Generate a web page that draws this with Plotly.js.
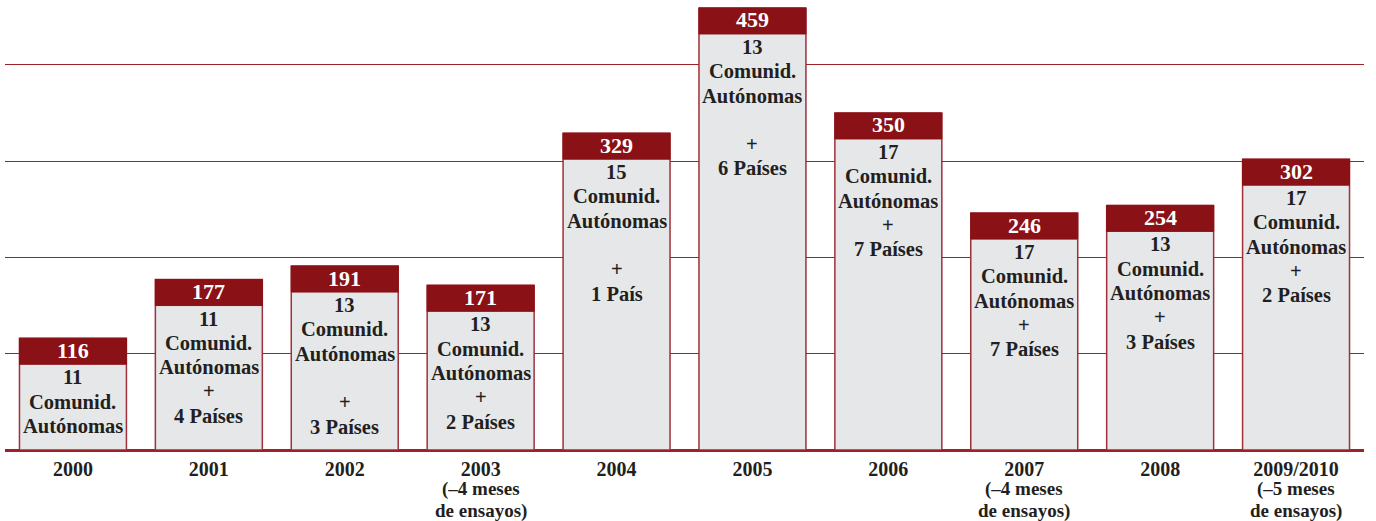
<!DOCTYPE html>
<html><head><meta charset="utf-8">
<script src="https://cdn.plot.ly/plotly-3.0.1.min.js"></script>
<style>html,body{margin:0;padding:0;background:#fff}#chart{width:1376px;height:521px}</style>
</head><body><div id="chart"></div>
<script>
const years = ['2000','2001','2002','2003','2004','2005','2006','2007','2008','2009/2010'];
const yearNotes = ['','','','(–4 meses<br>de ensayos)','','','','(–4 meses<br>de ensayos)','','(–5 meses<br>de ensayos)'];
const ensayos = [116,177,191,171,329,459,350,246,254,302];
const descriptions = [
  '11<br>Comunid.<br>Autónomas',
  '11<br>Comunid.<br>Autónomas<br>+<br>4 Países',
  '13<br>Comunid.<br>Autónomas<br><br>+<br>3 Países',
  '13<br>Comunid.<br>Autónomas<br>+<br>2 Países',
  '15<br>Comunid.<br>Autónomas<br><br>+<br>1 País',
  '13<br>Comunid.<br>Autónomas<br><br>+<br>6 Países',
  '17<br>Comunid.<br>Autónomas<br>+<br>7 Países',
  '17<br>Comunid.<br>Autónomas<br>+<br>7 Países',
  '13<br>Comunid.<br>Autónomas<br>+<br>3 Países',
  '17<br>Comunid.<br>Autónomas<br>+<br>2 Países'
];

const RED = '#8a1116';
const EDGE = '#a0303a';
const FONT = 'Liberation Serif';
const TXT = '#231f20';
const idx = years.map((_, i) => i);
const BW = 0.787;
const HEAD = 26;

const trace = {
  type: 'bar', x: idx, y: ensayos, width: BW,
  marker: {color: '#e6e7e9', line: {color: EDGE, width: 1.5}},
  hoverinfo: 'skip'
};

const shapes = idx.map(i => ({
  type: 'rect', layer: 'above', xref: 'x', yref: 'y',
  x0: i - BW/2, x1: i + BW/2,
  ysizemode: 'pixel', yanchor: ensayos[i], y0: -HEAD, y1: 0,
  fillcolor: RED, line: {color: RED, width: 1}
}));

const annotations = [];
idx.forEach(i => {
  annotations.push({
    x: i, y: ensayos[i], xref: 'x', yref: 'y', yanchor: 'middle', yshift: -HEAD/2 + 1,
    text: '<b>' + ensayos[i] + '</b>', showarrow: false,
    font: {family: FONT, size: 22, color: '#ffffff'}
  });
  descriptions[i].split('<br>').forEach((line, k) => {
    if (!line) return;
    annotations.push({
      x: i, y: ensayos[i], xref: 'x', yref: 'y', yanchor: 'middle',
      yshift: -HEAD - 13 - k * 24.3,
      text: '<b>' + line + '</b>', showarrow: false,
      font: {family: FONT, size: 20.5, color: TXT}
    });
  });
  yearNotes[i].split('<br>').forEach((line, k) => {
    if (!line) return;
    annotations.push({
      x: i, y: 0, xref: 'x', yref: 'y', yanchor: 'middle',
      yshift: -39 - k * 21.5,
      text: '<b>' + line + '</b>', showarrow: false,
      font: {family: FONT, size: 19, color: TXT}
    });
  });
});

const layout = {
  width: 1376, height: 521,
  margin: {l: 5, r: 12, t: 0, b: 71},
  paper_bgcolor: '#ffffff', plot_bgcolor: '#ffffff',
  showlegend: false,
  xaxis: {
    range: [-0.5, 9.5], tickmode: 'array', tickvals: idx,
    ticktext: years.map(t => '<b>' + t + '</b>'),
    ticks: 'outside', ticklen: 1, tickcolor: 'rgba(0,0,0,0)',
    showgrid: false, zeroline: false, showline: false,
    tickfont: {family: FONT, size: 20, color: TXT},
    fixedrange: true
  },
  yaxis: {
    range: [0, 467.3], tickvals: [100,200,300,400], showticklabels: false,
    showgrid: true, gridcolor: '#9b2327', gridwidth: 1,
    zeroline: true, zerolinecolor: '#9b2327', zerolinewidth: 3,
    ticks: '', fixedrange: true
  },
  shapes: shapes,
  annotations: annotations
};

Plotly.newPlot('chart', [trace], layout, {displayModeBar: false, staticPlot: true});
</script></body></html>
